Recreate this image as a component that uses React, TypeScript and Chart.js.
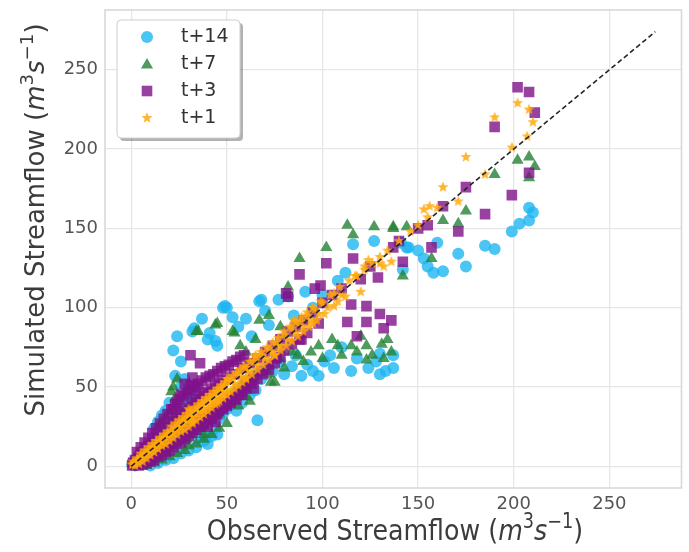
import React, { useEffect, useRef } from 'react';
import Chart from 'chart.js/auto';

// ---------------- data ----------------
const xTicks = [0, 50, 100, 150, 200, 250];
const yTicks = [0, 50, 100, 150, 200, 250];
const axisMin = -13.7;
const axisMax = 287.7;
const diagonalEnds = [0, 274];
const seriesLabels = ['t+14', 't+7', 't+3', 't+1'];
const xTitle = ['Observed Streamflow (', 'm', '3', 's', '\u22121', ')'];
const yTitle = ['Simulated Streamflow (', 'm', '3', 's', '\u22121', ')'];

const t14: [number, number][] = [
  [0.5, 1], [1, 3], [2, 0.5], [3, 5], [4, 2], [5, 8], [6, 3], [7, 10], [8, 4], [9, 13], [10, 6], [11, 15], [12, 7], [13, 18],
  [14, 9], [15, 21], [16, 10], [17, 23], [18, 12], [19, 26], [20, 13], [21, 28], [22, 15], [23, 31], [24, 16], [25, 34],
  [26, 17], [27, 36], [28, 19], [29, 39], [30, 20], [31, 42], [32, 21], [33, 44], [34, 22], [35, 18], [36, 24], [38, 16],
  [39, 19], [40, 14], [42, 19], [44, 24], [45, 20], [46, 30], [48, 33], [50, 36], [52, 40], [54, 44], [56, 47], [58, 50], [60, 54],
  [10, 0.5], [14, 2], [18, 4], [22, 5], [26, 8], [30, 10], [34, 12], [12, 24], [14, 28], [16, 32], [18, 35], [20, 40],
  [26, 50], [28, 55], [55, 35], [58, 40], [62, 45],
  [22, 73], [23, 57], [24, 82], [26, 66], [32, 85], [33, 87], [37, 93], [40, 80], [41, 84], [44, 79], [45, 76], [48, 100],
  [49, 101], [50, 100], [53, 94], [56, 88], [60, 93], [63, 82], [66, 29], [67, 104], [68, 105], [70, 98], [72, 89], [77, 105],
  [82, 107], [85, 95], [91, 110], [95, 100], [100, 108], [108, 117], [112, 122], [116, 140], [127, 142], [144, 138],
  [62, 52], [65, 48], [68, 55], [70, 62], [74, 60], [78, 66], [80, 58], [84, 63], [86, 70], [89, 57], [92, 64], [95, 60],
  [98, 57], [101, 66], [104, 70], [106, 62], [110, 75], [115, 60], [118, 68], [124, 62], [128, 66], [130, 58], [130, 71],
  [133, 60], [137, 62], [137, 70],
  [141, 141], [142, 124], [145, 138], [150, 136], [153, 131], [155, 126], [158, 122], [160, 141], [163, 123], [171, 134],
  [175, 126], [185, 139], [190, 137], [199, 148], [203, 153], [208, 155], [208, 163], [210, 160],
];

const t7: [number, number][] = [
  [1, 2], [2, 4], [3, 1], [4, 6], [5, 3], [6, 8], [7, 4], [8, 11], [9, 5], [10, 13], [11, 7], [12, 16], [13, 8], [14, 18],
  [15, 9], [16, 21], [17, 11], [18, 24], [19, 12], [20, 26], [21, 13], [22, 29], [23, 15], [24, 31], [25, 16], [26, 33],
  [27, 18], [28, 35], [29, 17], [30, 37], [31, 20], [32, 39], [33, 22], [34, 41], [35, 24], [36, 43], [37, 26], [38, 20],
  [40, 28], [42, 31], [44, 35], [46, 33], [48, 39], [50, 41], [52, 44], [54, 47], [56, 45], [58, 51], [60, 49], [62, 55],
  [64, 57], [66, 59],
  [8, 0.5], [12, 2], [16, 4], [20, 6], [24, 8], [28, 10], [30, 13], [34, 14], [38, 17], [42, 20], [46, 24], [50, 27],
  [18, 30], [20, 35], [14, 25], [16, 28], [56, 38], [60, 44],
  [22, 50], [23, 43], [21, 47], [24, 55], [34, 85], [35, 85], [44, 89], [45, 90], [53, 85], [54, 84], [57, 76], [60, 72],
  [62, 41], [65, 80], [67, 92], [72, 95], [73, 53], [75, 53], [77, 68], [78, 88], [82, 113], [87, 70], [88, 131], [98, 76],
  [102, 138], [108, 76], [113, 152], [115, 76], [116, 146], [123, 67], [123, 76], [127, 151], [131, 77], [136, 72],
  [137, 150], [137, 151], [142, 120], [144, 151],
  [70, 60], [72, 58], [80, 62], [84, 72], [90, 66], [94, 72], [100, 68], [105, 80], [110, 70], [118, 72], [120, 82],
  [126, 70], [132, 68], [134, 80],
  [157, 131], [163, 155], [171, 153], [175, 161], [190, 184], [202, 193], [208, 195], [211, 189], [208, 182],
];

const t3: [number, number][] = [
  [0.5, 0.5], [1, 2], [2, 1], [2, 4], [3, 2], [4, 6], [5, 3], [5, 7], [6, 5], [7, 9], [8, 6], [8, 11], [9, 8], [10, 13],
  [11, 9], [12, 15], [13, 11], [14, 18], [15, 12], [16, 20], [17, 14], [18, 23], [19, 15], [20, 25], [21, 17], [22, 28],
  [23, 18], [24, 30], [25, 20], [26, 33], [27, 21], [28, 35], [29, 23], [30, 37], [31, 24], [32, 40], [33, 26], [34, 42],
  [35, 28], [36, 44], [37, 30], [38, 46], [39, 31], [40, 47], [41, 33], [42, 49], [43, 34], [44, 51], [45, 36], [46, 52],
  [47, 38], [48, 54], [49, 40], [50, 56], [52, 43], [54, 58], [56, 47], [58, 62], [60, 52], [62, 65], [64, 56], [66, 68],
  [68, 60], [70, 72], [72, 64], [74, 76], [76, 68], [78, 80], [80, 73], [82, 85], [84, 77], [86, 88], [88, 80], [90, 92],
  [92, 84], [95, 97], [98, 90], [100, 103],
  [3, 9], [5, 12], [7, 15], [9, 18], [11, 21], [13, 24], [15, 27], [17, 30], [19, 33], [21, 36], [23, 39], [25, 42],
  [27, 44], [29, 46], [31, 48], [33, 50], [35, 52], [37, 54], [39, 56], [41, 57], [43, 58], [45, 60], [47, 62], [49, 63],
  [51, 64], [53, 66], [55, 67], [57, 69], [59, 70],
  [4, 0.5], [6, 1], [8, 2], [10, 3], [12, 4], [14, 6], [16, 7], [18, 9], [20, 10], [22, 12], [24, 14], [26, 15], [28, 17],
  [30, 19], [32, 21], [34, 23], [36, 25], [38, 27], [40, 29], [42, 31], [44, 33], [46, 35], [48, 37], [50, 39], [52, 41],
  [54, 43], [56, 45], [58, 47], [60, 49], [63, 52], [66, 55], [69, 58], [72, 61], [75, 65], [78, 69],
  [26, 45], [28, 52], [30, 48], [32, 56], [34, 50], [24, 40], [22, 36], [42, 30], [45, 33], [48, 36], [50, 38], [52, 40],
  [55, 42], [58, 45], [44, 28], [38, 26], [40, 25],
  [31, 70], [36, 65], [31, 51], [64, 49], [81, 109], [82, 107], [88, 121], [89, 80], [96, 112], [99, 114], [102, 128],
  [113, 91], [115, 102], [116, 131], [118, 82], [123, 91], [123, 101], [129, 119], [130, 96], [132, 87], [136, 92],
  [105, 108], [110, 112], [120, 118], [125, 126], [140, 142], [150, 150], [155, 152],
  [137, 138], [142, 129], [157, 138], [163, 164], [171, 148], [175, 176], [185, 159], [190, 214], [199, 171], [202, 239],
  [208, 236], [211, 223], [208, 185],
];

const t1: [number, number][] = [
  [0.5, 1], [1, 1.5], [2, 2], [3, 3.5], [4, 4], [5, 5.5], [6, 6], [7, 7.5], [8, 8], [9, 9.5], [10, 10], [11, 11.5],
  [12, 12], [13, 13.5], [14, 14], [15, 15.5], [16, 16], [17, 17.5], [18, 18], [19, 19.5], [20, 20], [21, 22], [22, 21],
  [23, 24], [24, 23], [25, 26], [26, 25], [27, 28], [28, 27], [29, 30], [30, 29], [31, 32], [32, 31], [33, 34], [34, 33],
  [35, 37], [36, 35], [37, 39], [38, 36], [39, 41], [40, 38], [41, 43], [42, 40], [43, 45], [44, 42], [45, 47], [46, 44],
  [47, 49], [48, 46], [49, 51], [50, 48], [52, 54], [54, 52], [56, 58], [58, 56], [60, 62], [62, 60], [64, 66], [66, 64],
  [68, 70], [70, 68], [72, 74], [74, 72], [76, 78], [78, 76], [80, 83], [82, 80], [84, 87], [86, 84], [88, 91], [90, 88],
  [92, 95], [94, 92], [96, 99], [98, 96], [100, 103], [103, 100], [106, 109], [110, 108], [114, 117], [118, 120],
  [122, 124], [126, 128], [130, 132], [134, 136], [140, 142], [146, 148], [150, 152], [155, 157], [160, 163],
  [1, 3], [2, 0.5], [3, 5], [4, 1.5], [5, 8], [6, 3], [7, 10], [8, 5], [9, 12], [10, 7], [11, 14], [12, 9], [13, 16],
  [14, 11], [15, 18], [16, 13], [17, 20], [18, 14], [19, 22], [20, 16], [21, 25], [22, 18], [23, 27], [24, 20], [25, 29],
  [26, 22], [27, 31], [28, 23], [29, 33], [30, 25], [31, 35], [32, 27], [33, 37], [34, 29], [35, 39], [36, 31], [37, 41],
  [38, 33], [39, 43], [40, 35], [41, 45], [42, 37], [43, 47], [44, 39], [45, 49], [46, 41], [47, 51], [48, 43], [49, 53],
  [50, 45], [51, 55], [52, 47], [53, 57], [54, 49], [55, 59], [56, 51], [57, 61], [58, 53], [59, 63], [60, 55], [62, 66],
  [63, 58], [65, 69], [66, 61], [68, 72], [69, 64], [71, 75], [72, 67], [74, 78], [75, 70], [77, 81], [78, 73], [80, 85],
  [81, 76], [83, 88], [84, 79], [86, 91], [87, 82], [89, 94], [90, 85], [92, 97], [93, 88], [95, 100], [97, 92], [99, 104],
  [101, 96], [104, 108], [106, 101], [109, 113], [112, 107],
  [30, 36], [32, 28], [45, 40], [50, 55], [60, 56], [65, 70], [75, 70], [85, 92], [95, 90], [108, 104],
  [117, 120], [122, 126], [130, 128], [120, 110], [124, 130],
  [132, 126], [136, 129], [153, 162], [156, 164], [163, 176], [171, 167], [175, 195], [185, 184], [190, 220], [199, 201],
  [202, 229], [207, 208], [208, 225], [210, 217],
];

// ---------------- styles ----------------
const colCyan = 'rgba(30,182,240,0.8)';
const colGreen = 'rgba(34,130,52,0.8)';
const colPurple = 'rgba(128,18,138,0.8)';
const colOrange = 'rgba(255,168,10,0.85)';
const FONT = '"DejaVu Sans", sans-serif';

function makeStar(color: string, r: number) {
  const c = document.createElement('canvas');
  const s = Math.ceil(r * 2 + 2);
  c.width = s;
  c.height = s;
  const g = c.getContext('2d')!;
  g.fillStyle = color;
  g.beginPath();
  for (let i = 0; i < 10; i++) {
    const rad = i % 2 === 0 ? r : r * 0.42;
    const a = -Math.PI / 2 + (i * Math.PI) / 5;
    g.lineTo(s / 2 + rad * Math.cos(a), s / 2 + rad * Math.sin(a));
  }
  g.closePath();
  g.fill();
  return c;
}

function drawRich(ctx: CanvasRenderingContext2D, parts: string[], size: number) {
  const sup = size * 0.7;
  const segs = [
    { t: parts[0], f: `${size}px ${FONT}`, dy: 0 },
    { t: parts[1], f: `italic ${size}px ${FONT}`, dy: 0 },
    { t: parts[2], f: `${sup}px ${FONT}`, dy: -size * 0.42 },
    { t: parts[3], f: `italic ${size}px ${FONT}`, dy: 0 },
    { t: parts[4], f: `${sup}px ${FONT}`, dy: -size * 0.42 },
    { t: parts[5], f: `${size}px ${FONT}`, dy: 0 },
  ];
  let total = 0;
  const widths = segs.map((s) => {
    ctx.font = s.f;
    const w = ctx.measureText(s.t).width;
    total += w;
    return w;
  });
  let x = -total / 2;
  ctx.textAlign = 'left';
  ctx.textBaseline = 'alphabetic';
  segs.forEach((s, i) => {
    ctx.font = s.f;
    ctx.fillText(s.t, x, s.dy);
    x += widths[i];
  });
}

function drawMarker(ctx: CanvasRenderingContext2D, kind: string, x: number, y: number, color: string, star?: HTMLCanvasElement) {
  ctx.fillStyle = color;
  ctx.beginPath();
  if (kind === 'circle') {
    ctx.arc(x, y, 6, 0, Math.PI * 2);
  } else if (kind === 'triangle') {
    const r = 7;
    for (let i = 0; i < 3; i++) {
      const a = -Math.PI / 2 + (i * 2 * Math.PI) / 3;
      ctx.lineTo(x + r * Math.cos(a), y + r * Math.sin(a) + 1);
    }
    ctx.closePath();
  } else if (kind === 'rect') {
    ctx.rect(x - 5.3, y - 5.3, 10.6, 10.6);
  } else if (star) {
    ctx.drawImage(star, x - star.width / 2, y - star.height / 2);
    return;
  }
  ctx.fill();
}

export default function App() {
  const ref = useRef<HTMLCanvasElement>(null);

  useEffect(() => {
    if (!ref.current) return;
    const star = makeStar(colOrange, 5.8);
    const toXY = (arr: [number, number][]) => arr.map(([x, y]) => ({ x, y }));

    const overlay = {
      id: 'overlay',
      afterDraw(chart: any) {
        const ctx: CanvasRenderingContext2D = chart.ctx;
        const a = chart.chartArea;
        ctx.save();
        ctx.strokeStyle = '#d6d6d6';
        ctx.lineWidth = 1.5;
        ctx.strokeRect(a.left, a.top, a.right - a.left, a.bottom - a.top);

        const bx = 117, by = 20, bw = 123, bh = 118;
        const rr = (x: number, y: number, w: number, h: number, r: number) => {
          ctx.beginPath();
          ctx.moveTo(x + r, y);
          ctx.lineTo(x + w - r, y);
          ctx.quadraticCurveTo(x + w, y, x + w, y + r);
          ctx.lineTo(x + w, y + h - r);
          ctx.quadraticCurveTo(x + w, y + h, x + w - r, y + h);
          ctx.lineTo(x + r, y + h);
          ctx.quadraticCurveTo(x, y + h, x, y + h - r);
          ctx.lineTo(x, y + r);
          ctx.quadraticCurveTo(x, y, x + r, y);
          ctx.closePath();
        };
        ctx.fillStyle = 'rgba(0,0,0,0.3)';
        rr(bx + 3, by + 3, bw, bh, 4);
        ctx.fill();
        ctx.fillStyle = '#ffffff';
        rr(bx, by, bw, bh, 4);
        ctx.fill();
        ctx.strokeStyle = '#cfcfcf';
        ctx.lineWidth = 1;
        ctx.stroke();
        const kinds = ['circle', 'triangle', 'rect', 'star'];
        const cols = [colCyan, colGreen, colPurple, colOrange];
        const rowsY = [37, 64, 91, 118];
        seriesLabels.forEach((lab, i) => {
          drawMarker(ctx, kinds[i], 147, rowsY[i], cols[i], star);
          ctx.fillStyle = '#333333';
          ctx.font = `19px ${FONT}`;
          ctx.textAlign = 'left';
          ctx.textBaseline = 'middle';
          ctx.fillText(lab, 181, rowsY[i]);
        });

        ctx.fillStyle = '#3c3c3c';
        ctx.save();
        ctx.translate(395, 540);
        ctx.scale(1, 1.15);
        drawRich(ctx, xTitle, 25.3);
        ctx.restore();
        ctx.save();
        ctx.translate(44, 220);
        ctx.rotate(-Math.PI / 2);
        drawRich(ctx, yTitle, 26);
        ctx.restore();
        ctx.restore();
      },
    };

    const tickFont = { family: FONT, size: 18 };
    const chart = new Chart(ref.current, {
      type: 'scatter',
      data: {
        datasets: [
          {
            label: 'y = x',
            data: diagonalEnds.map((v) => ({ x: v, y: v })),
            showLine: true,
            borderColor: '#262626',
            borderWidth: 1.6,
            borderDash: [5, 3],
            pointRadius: 0,
            order: 0,
          },
          {
            label: seriesLabels[3],
            data: toXY(t1),
            pointStyle: star,
            backgroundColor: colOrange,
            borderWidth: 0,
            order: 1,
          },
          {
            label: seriesLabels[2],
            data: toXY(t3),
            pointStyle: 'rect',
            pointRadius: 7.5,
            backgroundColor: colPurple,
            borderWidth: 0,
            order: 2,
          },
          {
            label: seriesLabels[1],
            data: toXY(t7),
            pointStyle: 'triangle',
            pointRadius: 7,
            backgroundColor: colGreen,
            borderWidth: 0,
            order: 3,
          },
          {
            label: seriesLabels[0],
            data: toXY(t14),
            pointStyle: 'circle',
            pointRadius: 6,
            backgroundColor: colCyan,
            borderWidth: 0,
            order: 4,
          },
        ] as any,
      },
      options: {
        animation: false,
        responsive: false,
        devicePixelRatio: 1,
        events: [],
        layout: { padding: { top: 10, right: 6, left: 0, bottom: 0 } },
        plugins: { legend: { display: false }, tooltip: { enabled: false } },
        scales: {
          x: {
            type: 'linear',
            min: axisMin,
            max: axisMax,
            afterBuildTicks: (s: any) => {
              s.ticks = xTicks.map((v) => ({ value: v }));
            },
            afterFit: (s: any) => {
              s.height = 64;
              s.paddingLeft = 0;
              s.paddingRight = 0;
            },
            ticks: { font: tickFont, color: '#555555', padding: 6, maxRotation: 0 },
            grid: { color: '#e6e6e6', lineWidth: 1.3, drawTicks: false },
            border: { display: false },
          },
          y: {
            type: 'linear',
            min: axisMin,
            max: axisMax,
            afterBuildTicks: (s: any) => {
              s.ticks = yTicks.map((v) => ({ value: v }));
            },
            afterFit: (s: any) => {
              s.width = 105;
              s.paddingTop = 0;
              s.paddingBottom = 0;
            },
            ticks: { font: tickFont, color: '#555555', padding: 7 },
            grid: { color: '#e6e6e6', lineWidth: 1.3, drawTicks: false },
            border: { display: false },
          },
        },
      } as any,
      plugins: [overlay],
    });
    return () => chart.destroy();
  }, []);

  return (
    <div style={{ position: 'absolute', left: 0, top: 0, width: 689, height: 552, background: '#fff' }}>
      <canvas ref={ref} width={689} height={552} style={{ display: 'block' }} />
    </div>
  );
}
